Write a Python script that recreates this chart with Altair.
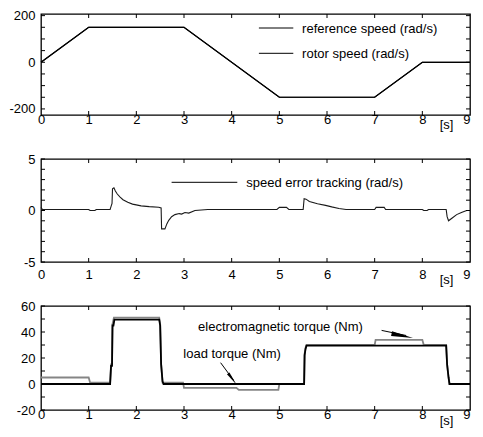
import altair as alt
import pandas as pd

FONT = "Liberation Sans"

# ---------------- data ----------------
# panel 1: speeds
t_speed = [0, 1, 3, 5, 7, 8, 9]
ref_speed = [0, 150, 150, -150, -150, 0, 0]
rotor_speed = [0, 150, 150, -150, -150, 0, 0]

# panel 2: speed error tracking
t_err = [0, 0.03, 1.0, 1.03, 1.13, 1.16, 1.45, 1.47, 1.49, 1.5, 1.53, 1.56, 1.6, 1.66,
         1.72, 1.82, 1.92, 2.1, 2.27, 2.47, 2.52, 2.53, 2.6, 2.64, 2.68, 2.74, 2.81,
         2.9, 2.95, 3.02, 3.1, 3.23, 3.5, 4.95, 5.0, 5.15, 5.2, 5.5, 5.52, 5.56, 5.63,
         5.8, 5.97, 6.1, 6.25, 6.4, 7.0, 7.03, 7.2, 7.23, 8.0, 8.03, 8.1, 8.13, 8.5,
         8.52, 8.55, 8.62, 8.72, 8.82, 8.93, 9.0]
err = [0.3, 0.1, 0.1, 0.0, 0.0, 0.1, 0.1, 0.4, 0.7, 2.1, 2.2, 1.9, 1.6, 1.3,
       1.05, 0.8, 0.62, 0.45, 0.38, 0.32, 0.25, -1.78, -1.78, -1.3, -0.95, -0.6, -0.4,
       -0.3, -0.35, -0.2, -0.25, 0.0, 0.1, 0.1, 0.3, 0.3, 0.1, 0.1, 1.15, 1.1, 0.87,
       0.65, 0.5, 0.35, 0.2, 0.1, 0.1, 0.3, 0.3, 0.1, 0.1, 0.0, 0.0, 0.1, 0.1,
       -0.6, -1.0, -0.75, -0.4, -0.2, 0.0, 0.0]

# panel 3: torques
t_tl = [0, 1.45, 1.47, 1.49, 1.5, 1.52, 1.54, 2.48, 2.5, 2.52, 2.55, 2.57, 5.52, 5.53,
        5.55, 5.57, 8.5, 8.52, 8.55, 8.57, 9]
tl = [0, 0, 14, 14, 45, 45, 49.5, 49.5, 45, 15, 2, 0, 0, 22, 27, 29.5, 29.5, 15, 5, 0, 0]

t_te = [0, 1.0, 1.03, 1.45, 1.47, 1.49, 1.5, 1.53, 2.48, 2.5, 2.52, 2.55, 2.98, 3.0,
        4.1, 4.15, 4.98, 5.0, 5.52, 5.53, 5.55, 5.57, 7.0, 7.02, 8.0, 8.03, 8.5, 8.52,
        8.55, 8.57, 9]
te = [5, 5, 1, 1, 15, 15, 46, 51, 51, 46, 16, 1, 1, -3, -3, -4.5, -4.5, 0, 0, 23, 28,
      30, 30, 34, 34, 30, 30, 15, 5, 0, 0]

# ticks
x_labels = list(range(10))
x_minor = list(range(1, 9))
y1_labels = [-200, 0, 200]
y1_minor = list(range(-200, 201, 50))
y2_labels = [-5, 0, 5]
y2_minor = list(range(-5, 6))
y3_labels = [-20, 0, 20, 40, 60]
y3_minor = list(range(-20, 61, 10))

W = 429
K = W / 437.0


def sx(p):
    return round(p * K, 1)


def frame(series):
    rows = []
    for name, ts, vs in series:
        for t, v in zip(ts, vs):
            rows.append({"t": t, "v": v, "series": name})
    return pd.DataFrame(rows)


def panel(df, names, colors, widths, ydomain, ylabels, yminor, H, xpad, title_y, extra):
    xs = alt.Scale(domain=[0, 9], nice=False, zero=False)
    ys = alt.Scale(domain=ydomain, nice=False, zero=False)
    x_axis = alt.Axis(values=x_labels, ticks=False, tickSize=0, domain=False, grid=False,
                      labelFlush=False, labelOverlap=False, labelPadding=xpad,
                      labelAlign=alt.condition("datum.value == 9", alt.value("right"),
                                               alt.value("center")),
                      labelFont=FONT, labelFontSize=13,
                      labelColor="black", title="[s]", titleX=W - 24, titleY=title_y,
                      titleAngle=0, titleAlign="center", titleBaseline="middle",
                      titleFont=FONT, titleFontSize=13, titleFontWeight="normal",
                      titleColor="black")
    y_axis = alt.Axis(values=ylabels, ticks=False, tickSize=0, domain=False, grid=False,
                      labelFlush=False, labelOverlap=False, labelPadding=6,
                      labelExpr="'' + datum.value",
                      labelFont=FONT, labelFontSize=13, labelColor="black", title=None)
    X = alt.X("t:Q", scale=xs, axis=x_axis)
    Y = alt.Y("v:Q", scale=ys, axis=y_axis)
    layers = []
    for name, col, sw in zip(names, colors, widths):
        layers.append(
            alt.Chart(df[df["series"] == name]).mark_line(color=col, strokeWidth=sw,
                                                          strokeJoin="miter")
            .encode(x=X, y=Y, order="idx:Q")
            .transform_window(idx="row_number()")
        )
    xt = pd.DataFrame({"t": x_minor})
    yt = pd.DataFrame({"v": yminor})
    tick_style = dict(color="black", strokeWidth=1)
    layers.append(alt.Chart(xt).mark_rule(**tick_style).encode(
        x=X, y=alt.value(0), y2=alt.value(4)))
    layers.append(alt.Chart(xt).mark_rule(**tick_style).encode(
        x=X, y=alt.value(H - 4), y2=alt.value(H)))
    layers.append(alt.Chart(yt).mark_rule(**tick_style).encode(
        y=Y, x=alt.value(0), x2=alt.value(4)))
    layers.append(alt.Chart(yt).mark_rule(**tick_style).encode(
        y=Y, x=alt.value(W - 4), x2=alt.value(W)))
    layers.extend(extra)
    return alt.layer(*layers).properties(width=W, height=H)


def legend_entry(label, x0, x1, yl, tx, ty):
    d = pd.DataFrame({"label": [label]})
    line = alt.Chart(d).mark_rule(color="black", strokeWidth=1).encode(
        x=alt.value(sx(x0)), x2=alt.value(sx(x1)), y=alt.value(yl))
    txt = alt.Chart(d).mark_text(align="left", baseline="middle", font=FONT, fontSize=13,
                                 color="black").encode(
        x=alt.value(sx(tx)), y=alt.value(ty), text="label:N")
    return [line, txt]


def arrow_note(label, tx, ty, x0, y0, x1, y1, hx, hy, ang, size):
    d = pd.DataFrame({"label": [label]})
    txt = alt.Chart(d).mark_text(align="left", baseline="middle", font=FONT, fontSize=13,
                                 color="black").encode(
        x=alt.value(sx(tx)), y=alt.value(ty), text="label:N")
    line = alt.Chart(d).mark_rule(color="black", strokeWidth=1).encode(
        x=alt.value(sx(x0)), y=alt.value(y0), x2=alt.value(sx(x1)), y2=alt.value(y1))
    head = alt.Chart(d).mark_point(shape="M0,-1L0.22,1L-0.22,1Z", filled=True, color="black",
                                   opacity=1, size=size, angle=ang, strokeWidth=0).encode(
        x=alt.value(sx(hx)), y=alt.value(hy))
    return [txt, line, head]


# panel 1
df1 = frame([("reference speed (rad/s)", t_speed, ref_speed),
             ("rotor speed (rad/s)", t_speed, rotor_speed)])
leg1 = legend_entry("reference speed (rad/s)", 222, 257, 14, 266, 15) + \
    legend_entry("rotor speed (rad/s)", 222, 257, 39.3, 266, 40)
p1 = panel(df1, ["reference speed (rad/s)", "rotor speed (rad/s)"], ["black", "black"],
           [1.2, 1.2], [-226, 207], y1_labels, y1_minor, 101, -2, 9, leg1)

# panel 2
df2 = frame([("speed error tracking (rad/s)", t_err, err)])
leg2 = legend_entry("speed error tracking (rad/s)", 133, 200, 23.3, 209, 23.5)
p2 = panel(df2, ["speed error tracking (rad/s)"], ["#1a1a1a"], [1.1], [-5, 5],
           y2_labels, y2_minor, 103, 6, 17, leg2)

# panel 3
df3 = frame([("electromagnetic torque (Nm)", t_te, te), ("load torque (Nm)", t_tl, tl)])
ann3 = arrow_note("electromagnetic torque (Nm)", 160, 20.7, 347, 24.4, 372, 29.5,
                  368, 29.7, 101.5, 480) + \
    arrow_note("load torque (Nm)", 145, 47.7, 183, 56.7, 196, 74, 195, 73, 143.5, 200)
p3 = panel(df3, ["electromagnetic torque (Nm)", "load torque (Nm)"], ["#858585", "black"],
           [1.8, 1.8], [-20, 60], y3_labels, y3_minor, 104, -2, 10, ann3)

chart = alt.vconcat(p1, p2, p3, spacing=44, bounds="flush").properties(
    padding={"left": 0, "top": 0, "right": 0, "bottom": 0},
    background="white",
).configure_view(stroke="black", strokeWidth=1.3)

chart.save("out.html", embed_options={"renderer": "svg", "actions": False})
